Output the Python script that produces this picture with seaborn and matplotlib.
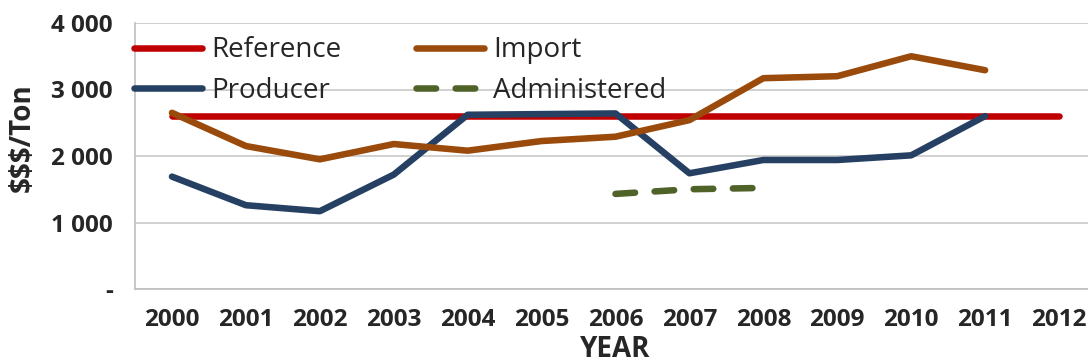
import numpy as np
import pandas as pd
import matplotlib
matplotlib.use("Agg")
import matplotlib.pyplot as plt
import seaborn as sns
from matplotlib.ticker import FixedLocator, NullFormatter, FixedFormatter

years = ["2000", "2001", "2002", "2003", "2004", "2005", "2006",
         "2007", "2008", "2009", "2010", "2011", "2012"]
reference = [2600] * 13
importp = [2650, 2150, 1950, 2180, 2080, 2225, 2290, 2540, 3170, 3200, 3500, 3290, None]
producer = [1690, 1260, 1170, 1720, 2620, 2630, 2640, 1740, 1940, 1940, 2010, 2600, None]
administered = [None, None, None, None, None, None, 1430, 1500, 1520, None, None, None, None]

y_ticks = [0, 1000, 2000, 3000, 4000]
y_tick_labels = ["-", "1 000", "2 000", "3 000", "4 000"]

series = {
    "Reference": reference,
    "Producer": producer,
    "Import": importp,
    "Administered": administered,
}
colors = {
    "Reference": "#C00000",
    "Producer": "#264063",
    "Import": "#9A4A0A",
    "Administered": "#4F6228",
}

rows = []
for name, vals in series.items():
    for i, v in enumerate(vals):
        if v is not None:
            rows.append({"pos": i, "value": v, "series": name})
df = pd.DataFrame(rows)

sns.set_style("white")
plt.rcParams["font.family"] = ["Open Sans", "DejaVu Sans"]

fig = plt.figure(figsize=(10.88, 3.63), dpi=100)
ax = fig.add_axes([135 / 1088, 74 / 363, 961 / 1088, 266 / 363])

lw = 4.7
for name in series:
    sub = df[df["series"] == name]
    style = dict(solid_capstyle="round", dash_capstyle="round")
    sns.lineplot(data=sub, x="pos", y="value", ax=ax, color=colors[name],
                 linewidth=lw, label=name, **style)
    if name == "Administered":
        ax.lines[-1].set_dashes([3.0, 3.0])

ax.set_xlim(-0.5, 12.5)
ax.set_ylim(0, 4000)

# category boundaries carry the tick marks; labels sit at category centres
ax.xaxis.set_major_locator(FixedLocator(np.arange(-0.5, 13.0, 1.0)))
ax.xaxis.set_major_formatter(NullFormatter())
ax.xaxis.set_minor_locator(FixedLocator(np.arange(13)))
ax.xaxis.set_minor_formatter(FixedFormatter(years))
ax.tick_params(axis="x", which="major", length=7, width=1.2, color="#BFBFBF", direction="out")
ax.tick_params(axis="x", which="minor", length=0, pad=14, labelsize=17.5)
for t in ax.xaxis.get_minorticklabels():
    t.set_fontweight("bold")

ax.set_yticks(y_ticks)
ax.set_yticklabels(y_tick_labels, fontsize=17.5, fontweight="bold")
ax.tick_params(axis="y", length=7, width=1.2, color="#BFBFBF", direction="out", pad=9)

ax.grid(axis="y", color="#C8C8C8", linewidth=1.2)
ax.set_axisbelow(True)
for s in ["top", "right"]:
    ax.spines[s].set_visible(False)
for s in ["left", "bottom"]:
    ax.spines[s].set_color("#BFBFBF")
    ax.spines[s].set_linewidth(1.2)

ax.set_xlabel("YEAR", fontsize=20, fontweight="bold")
ax.set_ylabel("$$$/Ton", fontsize=20, fontweight="bold")
ax.xaxis.set_label_coords(0.5, -0.172)
ax.yaxis.set_label_coords(-0.102, 0.57)

handles, labels = ax.get_legend_handles_labels()
order = ["Reference", "Producer", "Import", "Administered"]
hmap = dict(zip(labels, handles))
leg = ax.legend([hmap[k] for k in order], order, ncol=2, loc="upper left",
                bbox_to_anchor=(-0.001, 0.95), frameon=False, fontsize=20,
                handlelength=2.45, handletextpad=0.32, columnspacing=2.7,
                labelspacing=0.44, borderaxespad=0, borderpad=0)
for h in leg.legend_handles:
    h.set_solid_capstyle("round")
    h.set_dash_capstyle("round")

fig.savefig("out.png", dpi=100)
